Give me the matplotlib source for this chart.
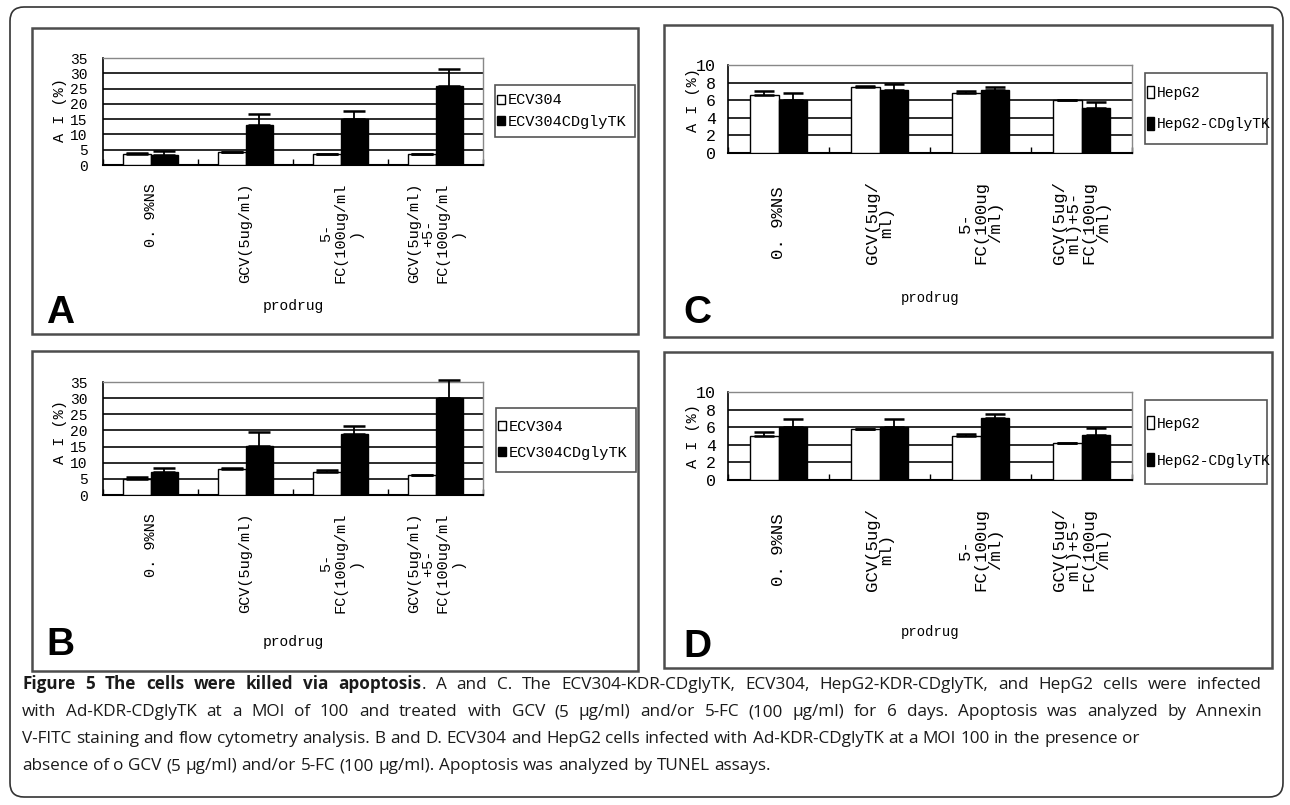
import numpy as np
import matplotlib
matplotlib.use("Agg")
import matplotlib.pyplot as plt
from matplotlib.patches import Rectangle, FancyBboxPatch

W, H = 1290, 805
CAP_FONT = "Open Sans"
CAP_SIZE = 12.3

labels_ab = ["0. 9%NS", "GCV(5ug/ml)", "5-\nFC(100ug/ml\n)", "GCV(5ug/ml)\n+5-\nFC(100ug/ml\n)"]
labels_cd = ["0. 9%NS", "GCV(5ug/\nml)", "5-\nFC(100ug\n/ml)", "GCV(5ug/\nml)+5-\nFC(100ug\n/ml)"]

names_ab = ["ECV304", "ECV304CDglyTK"]
names_cd = ["HepG2", "HepG2-CDglyTK"]

# panel A: Annexin V, ECV304
a_ecv = [3.5, 4.2, 3.5, 3.5]
a_ecv_err = [0.3, 0.2, 0.15, 0.1]
a_tk = [3.3, 13.0, 15.2, 25.9]
a_tk_err = [1.2, 3.8, 2.5, 5.6]
# panel B: TUNEL, ECV304
b_ecv = [5.1, 8.2, 7.0, 6.2]
b_ecv_err = [0.6, 0.3, 0.6, 0.1]
b_tk = [7.2, 15.2, 19.0, 29.9]
b_tk_err = [1.2, 4.2, 2.4, 5.8]
# panel C: Annexin V, HepG2
c_hep = [6.6, 7.5, 6.8, 6.0]
c_hep_err = [0.5, 0.1, 0.3, 0.05]
c_tk = [6.0, 7.15, 7.15, 5.15]
c_tk_err = [0.85, 0.7, 0.4, 0.7]
# panel D: TUNEL, HepG2
d_hep = [5.0, 5.8, 5.0, 4.15]
d_hep_err = [0.4, 0.05, 0.2, 0.1]
d_tk = [6.0, 6.0, 7.05, 5.1]
d_tk_err = [0.9, 0.9, 0.4, 0.8]

caption_lines = [
    [("Figure 5 The cells were killed via apoptosis", "bold"),
     (". A and C. The ECV304-KDR-CDglyTK, ECV304, HepG2-KDR-CDglyTK, and HepG2 cells were infected", "normal")],
    [("with Ad-KDR-CDglyTK at a MOI of 100 and treated with GCV (5 \u03bcg/ml) and/or 5-FC (100 \u03bcg/ml) for 6 days. Apoptosis was analyzed by Annexin", "normal")],
    [("V-FITC staining and flow cytometry analysis. B and D. ECV304 and HepG2 cells infected with Ad-KDR-CDglyTK at a MOI 100 in the presence or", "normal")],
    [("absence of o GCV (5 \u03bcg/ml) and/or 5-FC (100 \u03bcg/ml). Apoptosis was analyzed by TUNEL assays.", "normal")],
]
caption_right = [1262, 1262, None, None]

plt.rcParams["font.family"] = ["Liberation Mono", "DejaVu Sans"]

style_ab = dict(xsize=11, ysize=10.5, xpad=13, ypad=11, xva="top", ls=1.05, cap=8,
                legsize=11, hl=0.52, hh=0.52, ylsize=11, plsize=10.5)
style_cd = dict(xsize=12.5, ysize=12, xpad=50, ypad=8.5, xva="center", ls=1.0, cap=7,
                legsize=10.5, hl=0.5, hh=0.93, ylsize=11, plsize=10)


def px_rect(x0, y0, x1, y1):
    return [x0 / W, 1 - y1 / H, (x1 - x0) / W, (y1 - y0) / H]


fig = plt.figure(figsize=(W / 100, H / 100), dpi=100)
bg = fig.add_axes([0, 0, 1, 1])
bg.set_xlim(0, W)
bg.set_ylim(H, 0)
bg.axis("off")

bg.add_patch(FancyBboxPatch((10, 7), 1273, 790, boxstyle="round,pad=0,rounding_size=14",
                            fc="none", ec="#333333", lw=1.2))


def draw_panel(box, rect, letter, letter_xy, labels, white, white_err, black, black_err,
               names, ymax, ystep, leg_box, leg_sp, ylab_xy, xlab_xy, st):
    bg.add_patch(Rectangle((box[0], box[1]), box[2] - box[0], box[3] - box[1],
                           fc="none", ec="#4d4d4d", lw=1.8))
    bg.add_patch(Rectangle((leg_box[0], leg_box[1]), leg_box[2] - leg_box[0],
                           leg_box[3] - leg_box[1], fc="none", ec="#555555", lw=1.2))
    bg.text(letter_xy[0], letter_xy[1], letter, family="Liberation Sans", weight="bold",
            fontsize=28, va="baseline", ha="left")

    ax = fig.add_axes(px_rect(*rect))
    x = np.arange(len(labels))
    w = 0.285
    eb = dict(ecolor="black", elinewidth=1.3, capsize=st["cap"], capthick=1.8, zorder=4)
    n = len(labels)
    b1 = ax.bar(x - w / 2, white, w, yerr=[np.zeros(n), white_err], color="white",
                edgecolor="black", linewidth=1.0, error_kw=eb, label=names[0], zorder=3)
    b2 = ax.bar(x + w / 2, black, w, yerr=[np.zeros(n), black_err], color="black",
                edgecolor="black", linewidth=1.0, error_kw=eb, label=names[1], zorder=3)
    for cont in (b1, b2):
        data_line, caplines, barcols = cont.errorbar.lines
        for art in list(caplines) + list(barcols):
            art.set_clip_on(False)

    ax.set_xlim(-0.5, n - 0.5)
    ax.set_ylim(0, ymax)
    ax.set_yticks(np.arange(0, ymax + 0.01, ystep))
    ax.yaxis.grid(True, color="#1a1a1a", lw=1.3)
    ax.set_axisbelow(True)
    ax.set_xticks(x, labels)
    ax.set_xticks(np.arange(n + 1) - 0.5, minor=True)
    ax.tick_params(axis="x", which="major", length=0, pad=st["xpad"], labelsize=st["xsize"])
    ax.tick_params(axis="x", which="minor", direction="in", length=4, width=1)
    ax.tick_params(axis="y", length=0, pad=st["ypad"], labelsize=st["ysize"])
    for t in ax.get_xticklabels():
        t.set_rotation(90)
        t.set_va(st["xva"])
        t.set_ha("center")
        t.set_multialignment("center")
        t.set_linespacing(st["ls"])
    ax.spines["left"].set_color("black")
    ax.spines["left"].set_linewidth(1.2)
    ax.spines["bottom"].set_color("black")
    ax.spines["bottom"].set_linewidth(1.5)
    for s in ("top", "right"):
        ax.spines[s].set_color("#888888")
        ax.spines[s].set_linewidth(1.0)

    ax.set_ylabel("A I (%)", fontsize=st["ylsize"], va="center", ha="center")
    ax.yaxis.set_label_coords(ylab_xy[0], ylab_xy[1], transform=bg.transData)
    ax.set_xlabel("prodrug", fontsize=st["plsize"], va="center", ha="center")
    ax.xaxis.set_label_coords(xlab_xy[0], xlab_xy[1], transform=bg.transData)

    ax.legend(handles=[b1, b2], loc="center left",
              bbox_to_anchor=(leg_box[0] + 2, (leg_box[1] + leg_box[3]) / 2),
              bbox_transform=bg.transData, frameon=False, fontsize=st["legsize"],
              handlelength=st["hl"], handleheight=st["hh"], handletextpad=0.2,
              labelspacing=leg_sp, borderpad=0, borderaxespad=0)
    return ax


draw_panel((32, 28, 638, 334), (103, 58, 483, 165), "A", (46, 323), labels_ab,
           a_ecv, a_ecv_err, a_tk, a_tk_err, names_ab, 35, 5,
           (495, 85, 635, 137), 0.46, (60, 110), (293, 306), style_ab)
draw_panel((32, 351, 638, 671), (103, 382, 483, 495), "B", (46, 655), labels_ab,
           b_ecv, b_ecv_err, b_tk, b_tk_err, names_ab, 35, 5,
           (496, 408, 636, 472), 0.79, (60, 432), (293, 642), style_ab)
draw_panel((664, 25, 1272, 337), (728, 65, 1132, 153), "C", (683, 323), labels_cd,
           c_hep, c_hep_err, c_tk, c_tk_err, names_cd, 10, 2,
           (1145, 73, 1267, 144), 1.2, (693, 100), (930, 298), style_cd)
draw_panel((664, 352, 1272, 668), (728, 392, 1132, 480), "D", (683, 657), labels_cd,
           d_hep, d_hep_err, d_tk, d_tk_err, names_cd, 10, 2,
           (1145, 400, 1267, 484), 1.56, (693, 436), (930, 632), style_cd)

# caption, justified like the journal layout
renderer = fig.canvas.get_renderer()


def text_width(s, weight):
    t = bg.text(0, 0, s, family=CAP_FONT, fontsize=CAP_SIZE, weight=weight)
    wd = t.get_window_extent(renderer).width
    t.remove()
    return wd


space_w = text_width("a a", "normal") - text_width("aa", "normal")
x_left = 22
baselines = [689, 716, 743, 770]
for segs, right, yb in zip(caption_lines, caption_right, baselines):
    words = []
    for text, weight in segs:
        pieces = text.split(" ")
        for k, p in enumerate(pieces):
            if k == 0 and words and not text.startswith(" "):
                words[-1].append((p, weight))
            elif p:
                words.append([(p, weight)])
    widths = [sum(text_width(p, wt) for p, wt in wd) for wd in words]
    gap = space_w
    if right is not None and len(words) > 1:
        gap = (right - x_left - sum(widths)) / (len(words) - 1)
    xc = x_left
    for wd, wwd in zip(words, widths):
        xp = xc
        for p, wt in wd:
            bg.text(xp, yb, p, family=CAP_FONT, fontsize=CAP_SIZE, weight=wt,
                    color="#1a1a1a", va="baseline", ha="left")
            xp += text_width(p, wt)
        xc += wwd + gap

fig.savefig("out.png", dpi=100)
